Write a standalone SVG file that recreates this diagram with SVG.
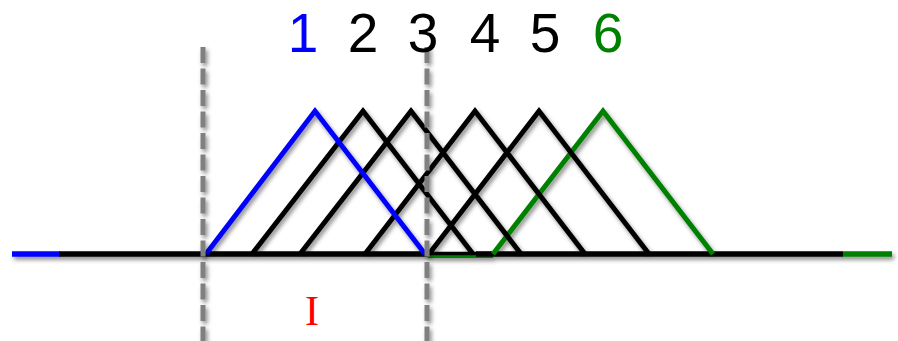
<svg xmlns="http://www.w3.org/2000/svg" width="898" height="341" viewBox="0 0 898 341">
<style>
.tri{fill:none;stroke-width:5;stroke-linejoin:miter;stroke-linecap:butt}
.k{stroke:#000}
.b{stroke:#0000ff}
.g{stroke:#008000}
.base{fill:none;stroke-width:5.5}
.dash{stroke:#808080;stroke-width:5;stroke-dasharray:16 5.5;fill:none}
.num{font-family:"Liberation Sans",Arial,sans-serif;font-size:55px;text-anchor:middle}
</style>
<defs>
<filter id="sh" x="-10%" y="-10%" width="120%" height="130%">
<feDropShadow dx="2" dy="3" stdDeviation="2" flood-color="#000" flood-opacity="0.45"/>
</filter>
</defs>
<g id="connectors" filter="url(#sh)">
<g id="baseline">
<line class="base b" x1="12" y1="254" x2="60" y2="254"/>
<line x1="428" y1="256" x2="493" y2="256" stroke="#008000" stroke-width="4"/>
<line class="base k" x1="59" y1="254" x2="428" y2="254"/>
<line x1="428" y1="253.5" x2="493" y2="253.5" stroke="#000" stroke-width="3.5"/>
<line class="base k" x1="476" y1="254" x2="843" y2="254"/>
<line class="base g" x1="843" y1="254" x2="892" y2="254"/>
</g>
<polyline id="tri6" class="tri g" points="493,254 603,111 713,254"/>
<polyline id="tri5" class="tri k" points="429,254 539,111 649,254"/>
<polyline id="tri4" class="tri k" points="365,254 475,111 585,254"/>
<polyline id="tri3" class="tri k" points="300,254 411,111 521,254"/>
<polyline id="tri2" class="tri k" points="252,254 363,111 473,254"/>
<polyline id="tri1" class="tri b" points="206,254 315,111 425,254"/>
</g>
<g id="bounds" filter="url(#sh)">
<line class="dash" x1="203" y1="47" x2="203" y2="341"/>
<line class="dash" x1="427" y1="47" x2="427" y2="341"/>
</g>
<g id="labels">
<text class="num" x="303" y="52" fill="#0000ff">1</text>
<text class="num" x="363" y="52" fill="#000">2</text>
<text class="num" x="423" y="52" fill="#000">3</text>
<text class="num" x="485" y="52" fill="#000">4</text>
<text class="num" x="545" y="52" fill="#000">5</text>
<text class="num" x="608" y="52" fill="#008000">6</text>
<text x="312" y="325" fill="#ff0000" font-family="'Liberation Serif',serif" font-size="42" text-anchor="middle">I</text>
</g>
</svg>
